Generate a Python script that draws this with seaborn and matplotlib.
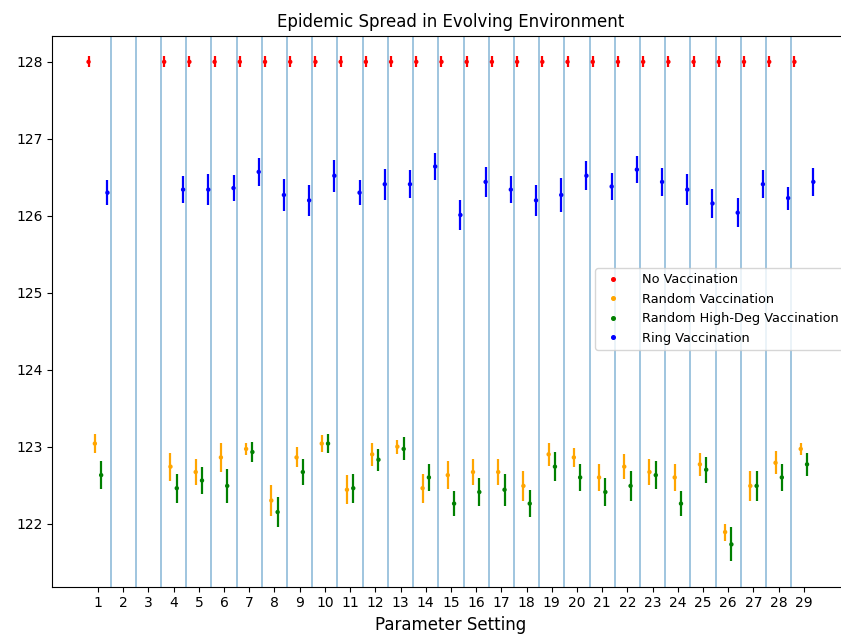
import numpy as np
import pandas as pd
import matplotlib
matplotlib.use("Agg")
import matplotlib.pyplot as plt
from matplotlib.lines import Line2D
import seaborn as sns

nan = np.nan

# Parameter settings (2 and 3 produced no runs)
settings = list(range(1, 30))

strategies = ["No Vaccination", "Random Vaccination",
              "Random High-Deg Vaccination", "Ring Vaccination"]
colors = ["red", "orange", "green", "blue"]

no_vacc_mean = [128.0, nan, nan] + [128.0] * 26
no_vacc_err = [0.07, nan, nan] + [0.07] * 26

random_mean = [123.04, nan, nan, 122.74, 122.67, 122.86, 122.97, 122.30, 122.86, 123.04,
               122.44, 122.90, 123.00, 122.46, 122.63, 122.67, 122.67, 122.49, 122.90,
               122.86, 122.60, 122.74, 122.67, 122.60, 122.77, 121.89, 122.49, 122.79, 122.97]
random_err = [0.12, nan, nan, 0.18, 0.17, 0.19, 0.08, 0.20, 0.13, 0.11,
              0.19, 0.15, 0.09, 0.19, 0.18, 0.17, 0.17, 0.19, 0.15,
              0.12, 0.18, 0.16, 0.17, 0.18, 0.15, 0.11, 0.19, 0.15, 0.08]

highdeg_mean = [122.63, nan, nan, 122.46, 122.56, 122.49, 122.93, 122.15, 122.67, 123.04,
                122.46, 122.83, 122.97, 122.60, 122.26, 122.41, 122.44, 122.26, 122.74,
                122.60, 122.41, 122.49, 122.63, 122.26, 122.70, 121.73, 122.49, 122.60, 122.77]
highdeg_err = [0.18, nan, nan, 0.19, 0.18, 0.22, 0.13, 0.19, 0.17, 0.12,
               0.19, 0.14, 0.15, 0.18, 0.16, 0.18, 0.21, 0.18, 0.19,
               0.18, 0.18, 0.19, 0.18, 0.16, 0.17, 0.22, 0.19, 0.18, 0.15]

ring_mean = [126.30, nan, nan, 126.34, 126.34, 126.36, 126.57, 126.27, 126.20, 126.52,
             126.30, 126.41, 126.41, 126.64, 126.01, 126.44, 126.34, 126.20, 126.27,
             126.52, 126.38, 126.60, 126.44, 126.34, 126.16, 126.04, 126.41, 126.23, 126.44]
ring_err = [0.16, nan, nan, 0.18, 0.20, 0.17, 0.18, 0.21, 0.20, 0.21,
            0.16, 0.20, 0.18, 0.18, 0.20, 0.20, 0.18, 0.20, 0.22,
            0.19, 0.18, 0.18, 0.18, 0.20, 0.19, 0.19, 0.18, 0.15, 0.18]

means = [no_vacc_mean, random_mean, highdeg_mean, ring_mean]
errs = [no_vacc_err, random_err, highdeg_err, ring_err]
offsets = [-0.375, -0.125, 0.125, 0.375]

frames = []
for name, m, e, off in zip(strategies, means, errs, offsets):
    frames.append(pd.DataFrame({
        "setting": settings,
        "pos": np.array(settings) + off,
        "mean": m,
        "err": e,
        "strategy": name,
    }))
df = pd.concat(frames, ignore_index=True).dropna()

fig = plt.figure(figsize=(8.41, 6.36), dpi=100)
ax = fig.add_axes([0.0622, 0.0775, 0.948, 0.8664])

# separators between parameter settings
for s in settings[:-1]:
    ax.axvline(s + 0.5, color="C0", alpha=0.5, lw=1.2, zorder=1)

palette = dict(zip(strategies, colors))
for name in strategies:
    sub = df[df["strategy"] == name]
    ax.errorbar(sub["pos"], sub["mean"], yerr=sub["err"], fmt="none",
                ecolor=palette[name], elinewidth=1.6, zorder=2)

sns.scatterplot(data=df, x="pos", y="mean", hue="strategy", palette=palette,
                hue_order=strategies, s=10, linewidth=0, legend=False,
                ax=ax, zorder=3)

ax.set_xlim(-0.8125, 30.8125)
ax.set_ylim(121.18, 128.34)
ax.set_xticks(settings)
ax.set_xticklabels([str(s) for s in settings])
ax.set_yticks([122, 123, 124, 125, 126, 127, 128])
ax.set_xlabel("Parameter Setting", fontsize=12)
ax.set_ylabel("")
ax.set_title("Epidemic Spread in Evolving Environment", fontsize=12)

handles = [Line2D([], [], marker="o", linestyle="", color=c, markersize=2.6)
           for c in colors]
ax.legend(handles, strategies, loc="upper left",
          bbox_to_anchor=(595 / 841, 1 - 268 / 636),
          bbox_transform=fig.transFigure, borderaxespad=0,
          fontsize=9.3, numpoints=1, handletextpad=1.25)

fig.savefig("out.png", dpi=100)
